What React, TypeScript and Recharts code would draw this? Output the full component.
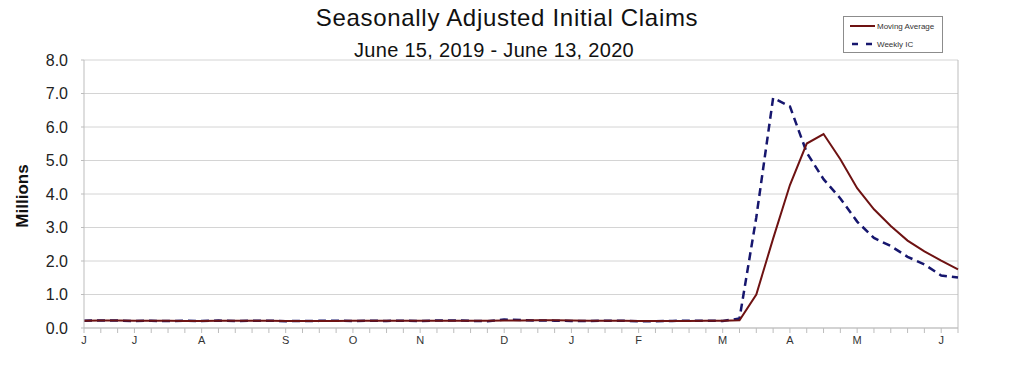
import { LineChart, Line, XAxis, YAxis, CartesianGrid, Legend, ReferenceLine } from 'recharts';

// Week-ending dates (Saturdays), June 15, 2019 - June 13, 2020
const weekEnding = [
    '2019-06-15', '2019-06-22', '2019-06-29', '2019-07-06', '2019-07-13', '2019-07-20', '2019-07-27',
    '2019-08-03', '2019-08-10', '2019-08-17', '2019-08-24', '2019-08-31', '2019-09-07', '2019-09-14',
    '2019-09-21', '2019-09-28', '2019-10-05', '2019-10-12', '2019-10-19', '2019-10-26', '2019-11-02',
    '2019-11-09', '2019-11-16', '2019-11-23', '2019-11-30', '2019-12-07', '2019-12-14', '2019-12-21',
    '2019-12-28', '2020-01-04', '2020-01-11', '2020-01-18', '2020-01-25', '2020-02-01', '2020-02-08',
    '2020-02-15', '2020-02-22', '2020-02-29', '2020-03-07', '2020-03-14', '2020-03-21', '2020-03-28',
    '2020-04-04', '2020-04-11', '2020-04-18', '2020-04-25', '2020-05-02', '2020-05-09', '2020-05-16',
    '2020-05-23', '2020-05-30', '2020-06-06', '2020-06-13',
];

// Millions
const weeklyIC = [
    0.216, 0.227, 0.222, 0.209, 0.216, 0.206, 0.217, 0.209, 0.221, 0.210, 0.215, 0.217, 0.204, 0.208,
    0.213, 0.219, 0.210, 0.214, 0.212, 0.218, 0.211, 0.225, 0.227, 0.213, 0.203, 0.252, 0.235, 0.222,
    0.220, 0.212, 0.207, 0.220, 0.216, 0.201, 0.205, 0.211, 0.219, 0.217, 0.211, 0.282, 3.307, 6.867,
    6.615, 5.237, 4.442, 3.867, 3.176, 2.687, 2.446, 2.126, 1.897, 1.566, 1.508,
];

const movingAverage = [
    0.219, 0.221, 0.222, 0.219, 0.218, 0.213, 0.212, 0.212, 0.213, 0.214, 0.214, 0.216, 0.212, 0.211,
    0.211, 0.211, 0.213, 0.214, 0.214, 0.214, 0.214, 0.217, 0.220, 0.219, 0.217, 0.224, 0.226, 0.228,
    0.232, 0.222, 0.215, 0.215, 0.214, 0.211, 0.211, 0.208, 0.209, 0.213, 0.215, 0.232, 0.998, 2.667,
    4.268, 5.507, 5.790, 5.040, 4.173, 3.543, 3.044, 2.609, 2.289, 2.009, 1.749,
];

// Month letters and the week index they sit under
const monthLabels = ['J', 'J', 'A', 'S', 'O', 'N', 'D', 'J', 'F', 'M', 'A', 'M', 'J'];
const monthWeeks = [0, 3, 7, 12, 16, 20, 25, 29, 33, 38, 42, 46, 51];

const yTicks = [0, 1, 2, 3, 4, 5, 6, 7, 8];

const FONT = '"Liberation Sans", Arial, sans-serif';
const MA_COLOR = '#6e1212';
const IC_COLOR = '#16166e';
const AXIS_GRAY = '#bdbdbd';

const data = weekEnding.map((week, i) => ({
    i,
    week,
    movingAverage: movingAverage[i],
    weeklyIC: weeklyIC[i],
}));

function monthLetter(v: number): string {
    const idx = monthWeeks.indexOf(v);
    return idx >= 0 ? monthLabels[idx] : '';
}

function LegendBox() {
    return (
        <div
            style={{
                width: 98,
                height: 35,
                border: '1px solid #8c8c8c',
                background: '#fff',
                fontFamily: FONT,
                fontSize: 8,
                color: '#333',
                position: 'relative',
            }}
        >
            <svg width={98} height={35} style={{ position: 'absolute', left: 0, top: 0 }}>
                <line x1={6} x2={31} y1={9} y2={9} stroke={MA_COLOR} strokeWidth={2} />
                <line x1={8} x2={30} y1={27} y2={27} stroke={IC_COLOR} strokeWidth={2.5} strokeDasharray="6 8" />
                <text x={33} y={12} fontSize={8} fill="#333" fontFamily={FONT}>Moving Average</text>
                <text x={33} y={30} fontSize={8} fill="#333" fontFamily={FONT}>Weekly IC</text>
            </svg>
        </div>
    );
}

export default function App() {
    return (
        <div style={{ position: 'absolute', left: 0, top: 0, width: 1024, height: 372, background: '#fff' }}>
            <div
                style={{
                    position: 'absolute', left: 0, top: 4, width: 1014, textAlign: 'center',
                    fontFamily: FONT, fontSize: 24, letterSpacing: 0.7, color: '#111',
                }}
            >
                Seasonally Adjusted Initial Claims
            </div>
            <div
                style={{
                    position: 'absolute', left: 0, top: 39, width: 988, textAlign: 'center',
                    fontFamily: FONT, fontSize: 20, letterSpacing: 0.3, color: '#111',
                }}
            >
                June 15, 2019 - June 13, 2020
            </div>
            <div
                style={{
                    position: 'absolute', left: 23, top: 196, transform: 'translate(-50%, -50%) rotate(-90deg)',
                    fontFamily: FONT, fontSize: 17, fontWeight: 'bold', color: '#111', whiteSpace: 'nowrap',
                }}
            >
                Millions
            </div>
            <LineChart
                width={1024}
                height={372}
                data={data}
                margin={{ top: 60, right: 66, left: 0, bottom: 0 }}
                style={{ fontFamily: FONT }}
            >
                <CartesianGrid vertical={false} stroke="#d4d4d4" />
                <XAxis
                    dataKey="i"
                    type="number"
                    domain={[0, 52]}
                    ticks={data.map((d) => d.i)}
                    interval={0}
                    tickFormatter={monthLetter}
                    height={44}
                    stroke={AXIS_GRAY}
                    tickSize={5}
                    tickMargin={3}
                    tick={{ fill: '#333', fontSize: 11, fontFamily: FONT }}
                />
                <YAxis
                    domain={[0, 8]}
                    ticks={yTicks}
                    width={84}
                    stroke={AXIS_GRAY}
                    tickSize={3}
                    tickMargin={13}
                    tickFormatter={(v: number) => v.toFixed(1)}
                    tick={{ fill: '#222', fontSize: 16, fontFamily: FONT }}
                />
                <ReferenceLine x={52} stroke={AXIS_GRAY} />
                <Legend
                    layout="horizontal"
                    verticalAlign="middle"
                    align="center"
                    wrapperStyle={{ left: 843, top: 16, width: 100 }}
                    content={() => <LegendBox />}
                />
                <Line
                    type="linear"
                    dataKey="weeklyIC"
                    name="Weekly IC"
                    stroke={IC_COLOR}
                    strokeWidth={2.5}
                    strokeDasharray="8 5"
                    dot={false}
                    isAnimationActive={false}
                />
                <Line
                    type="linear"
                    dataKey="movingAverage"
                    name="Moving Average"
                    stroke={MA_COLOR}
                    strokeWidth={2}
                    dot={false}
                    isAnimationActive={false}
                />
            </LineChart>
        </div>
    );
}
